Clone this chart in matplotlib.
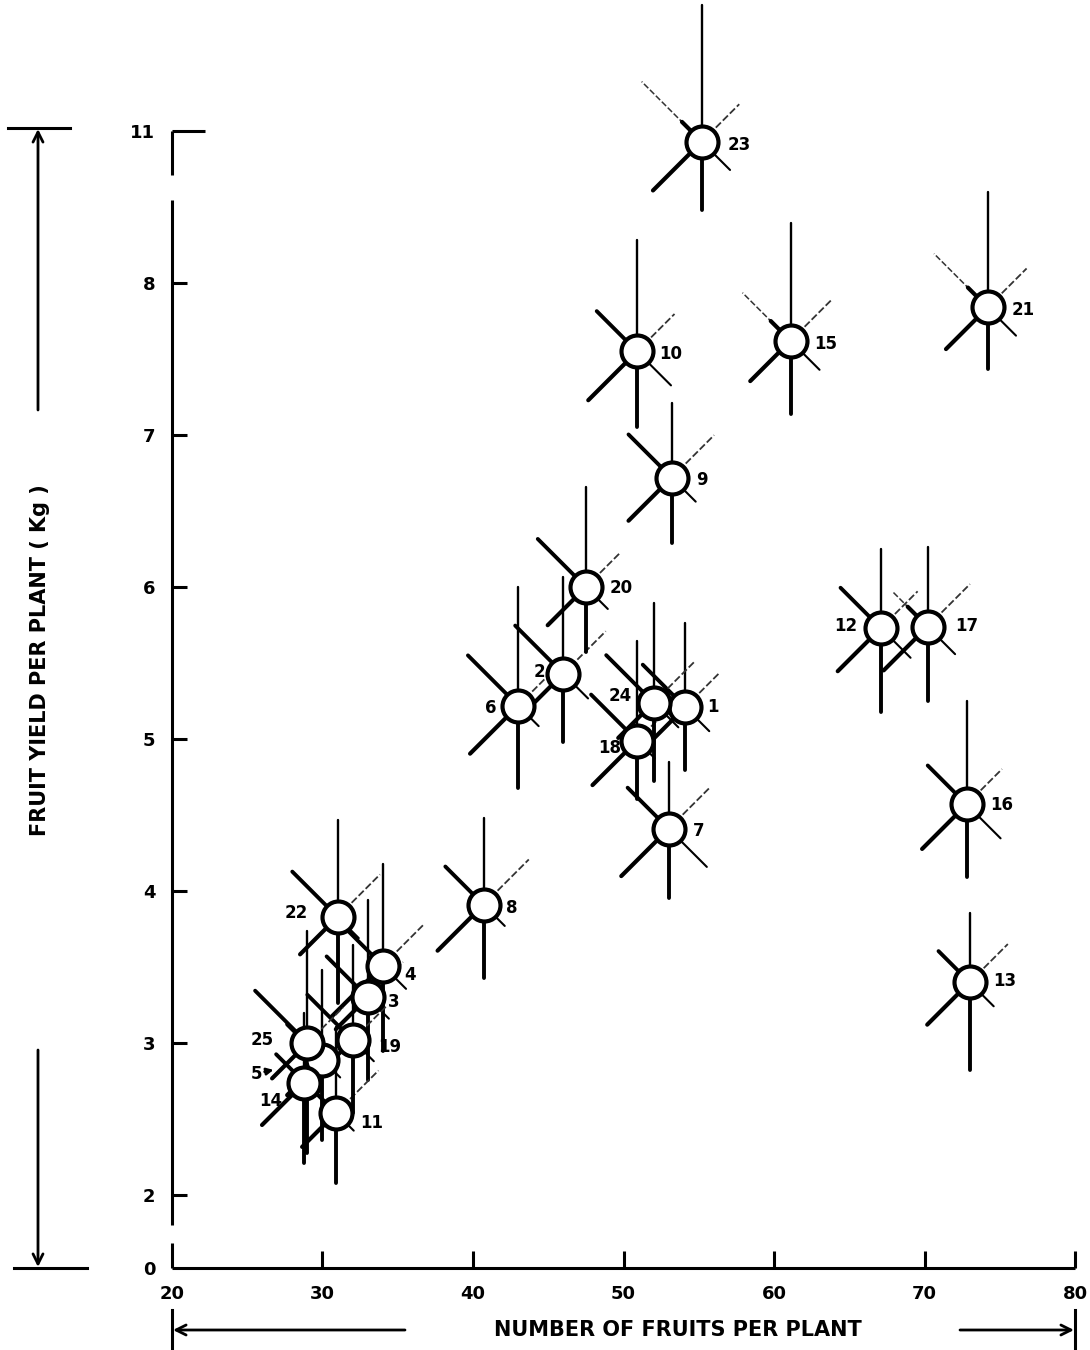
import numpy as np
import matplotlib
matplotlib.use("Agg")
import matplotlib.pyplot as plt

# metroglyph data: one glyph per accession
ids = list(range(1, 26))
fruits = [54.1, 46.0, 33.0, 34.0, 30.0, 43.0, 53.0, 40.7, 53.2, 50.9, 30.9, 67.1, 73.0,
          28.8, 61.1, 72.8, 70.2, 50.9, 32.0, 47.5, 74.2, 31.0, 55.2, 52.0, 29.0]
yield_kg = [5.21, 5.43, 3.30, 3.51, 2.89, 5.22, 4.41, 3.91, 6.72, 7.55, 2.54, 5.73, 3.40,
            2.74, 7.62, 4.57, 5.74, 4.99, 3.02, 6.00, 7.84, 3.83, 10.93, 5.24, 3.00]
# ray lengths (other characters) for each glyph
ray_up = [84, 97, 97, 102, 90, 119, 67, 87, 75, 111, 86, 79, 69,
          70, 118, 103, 80, 100, 95, 100, 115, 97, 137, 100, 112]
ray_down = [63, 68, 83, 85, 80, 82, 69, 73, 65, 76, 70, 84, 88,
            80, 73, 73, 74, 58, 73, 65, 62, 86, 68, 78, 110]
ray_nw = [60, 68, 58, 57, 50, 71, 58, 54, 61, 57, 35, 57, 44,
          40, 68, 55, 50, 65, 64, 68, 76, 64, 85, 67, 74]
ray_ne = [47, 60, 50, 57, 45, 60, 59, 64, 60, 53, 60, 52, 54,
          55, 59, 50, 60, 60, 48, 47, 55, 60, 53, 57, 50]
ray_sw = [59, 62, 45, 72, 50, 68, 67, 65, 61, 69, 48, 61, 60,
          60, 57, 63, 62, 63, 45, 54, 59, 53, 69, 50, 50]
ray_se = [34, 35, 30, 33, 25, 29, 54, 30, 34, 48, 25, 42, 34,
          30, 41, 48, 39, 25, 30, 31, 40, 30, 40, 35, 30]

xticks = [20, 30, 40, 50, 60, 70, 80]
yticks = [0, 2, 3, 4, 5, 6, 7, 8, 11]

# style / layout
nw_thin = {15, 17, 21, 23}
label_off = {1: (22, 0), 2: (-18, 2), 3: (20, -5), 4: (22, -9), 5: (-60, -14), 6: (-22, -2),
             7: (24, -2), 8: (22, -3), 9: (24, -2), 10: (22, -3), 11: (24, -10), 12: (-24, 2),
             13: (24, 1), 14: (-22, -18), 15: (24, -3), 16: (24, -1), 17: (28, 1), 18: (-16, -7),
             19: (26, -7), 20: (24, -1), 21: (24, -3), 22: (-30, 4), 23: (26, -3), 24: (-22, 7),
             25: (-34, 3)}


def ydisp(v):
    # broken y axis: 0 squeezed under 2, 11 placed one step above 8
    if v >= 9:
        return v - 2
    if v < 2:
        return 2 - 0.48 * (2 - v) / 2
    return v


W, H = 1090, 1350
fig = plt.figure(figsize=(W / 100, H / 100), dpi=100)
ax = fig.add_axes([172 / W, 82 / H, 903 / W, 1268 / H])
ax.set_xlim(20, 80)
ax.set_ylim(ydisp(0), ydisp(0) + 1268 / 152)
px_x = 903 / 60
px_y = 152
for s in ax.spines.values():
    s.set_visible(False)

# axis lines (broken left axis)
k = dict(color="k", lw=2.2, clip_on=False, solid_capstyle="butt")
y0 = ydisp(0)
ax.plot([20, 80], [y0, y0], **k)
ax.plot([20, 20], [y0, y0 + 25 / px_y], **k)
ax.plot([20, 20], [y0 + 43 / px_y, 8 + 83 / px_y], **k)
ax.plot([20, 20], [8 + 108 / px_y, ydisp(11)], **k)
ax.plot([20, 20 + 33 / px_x], [ydisp(11), ydisp(11)], **k)
for yv in yticks[1:-1]:
    ax.plot([20, 20 + 15 / px_x], [yv, yv], **k)
for xv in xticks[1:]:
    ax.plot([xv, xv], [y0, y0 + 17 / px_y], **k)

ax.set_xticks(xticks)
ax.set_xticklabels([str(v) for v in xticks])
ax.set_yticks([ydisp(v) for v in yticks])
ax.set_yticklabels([str(v) for v in yticks])
ax.tick_params(length=0, labelsize=13, pad=12)
for t in ax.get_xticklabels() + ax.get_yticklabels():
    t.set_fontweight("bold")

# glyphs
for i, gid in enumerate(ids):
    x, y = fruits[i], ydisp(yield_kg[i])

    def ray(length, ang, lw, ls="-", col="k"):
        a = np.radians(ang)
        ax.plot([x, x + length * np.cos(a) / px_x], [y, y + length * np.sin(a) / px_y],
                color=col, lw=lw, ls=ls, solid_capstyle="round", clip_on=False, zorder=2)

    ray(ray_up[i], 90, 1.7)
    ray(ray_down[i], 270, 2.8)
    ray(ray_sw[i], 225, 3.0)
    ray(ray_se[i], 315, 1.5)
    ray(ray_ne[i], 45, 1.3, ls=(0, (4, 1.5)), col="0.2")
    if gid in nw_thin:
        ray(ray_nw[i], 135, 1.1, ls=(0, (4, 1.5)), col="0.2")
        ray(28, 135, 3.0)
    else:
        ray(ray_nw[i], 135, 2.8)

ax.scatter([fruits[i] for i in range(len(ids))], [ydisp(v) for v in yield_kg],
           s=530, facecolor="white", edgecolor="k", linewidth=3.0, zorder=3, clip_on=False)

for i, gid in enumerate(ids):
    dx, dy = label_off[gid]
    ax.annotate(str(gid), (fruits[i], ydisp(yield_kg[i])), xytext=(dx, dy),
                textcoords="offset pixels", ha="left" if dx > 0 else "right", va="center",
                fontsize=12, fontweight="bold", zorder=4)
# arrow next to label 5
i5 = ids.index(5)
ax.annotate("", (fruits[i5], ydisp(yield_kg[i5])), xytext=(-58, -12), textcoords="offset pixels",
            xycoords="data", arrowprops=dict(arrowstyle="-|>", lw=1.8, color="k",
                                             shrinkA=0, shrinkB=36, mutation_scale=10))

# outer arrows and axis titles drawn in figure pixels
ov = fig.add_axes([0, 0, 1, 1], zorder=-1)
ov.set_xlim(0, W)
ov.set_ylim(H, 0)
ov.axis("off")
ov.patch.set_alpha(0)
lk = dict(color="k", lw=2.2)
ov.plot([8, 70], [128, 128], **lk)
ov.plot([14, 87], [1268, 1268], **lk)
ar = dict(arrowstyle="->", lw=2.0, color="k", mutation_scale=18, shrinkA=0, shrinkB=0)
ov.annotate("", (38, 129), xytext=(38, 410), arrowprops=ar)
ov.annotate("", (38, 1267), xytext=(38, 1050), arrowprops=ar)
ov.text(40, 660, "FRUIT YIELD PER PLANT ( Kg )", rotation=90, ha="center", va="center",
        fontsize=15, fontweight="bold")

ov.plot([172, 172], [1310, 1350], **lk)
ov.plot([1075, 1075], [1310, 1350], **lk)
ov.annotate("", (173, 1330), xytext=(405, 1330), arrowprops=ar)
ov.annotate("", (1074, 1330), xytext=(960, 1330), arrowprops=ar)
ov.text(678, 1330, "NUMBER OF FRUITS PER PLANT", ha="center", va="center",
        fontsize=15, fontweight="bold")

plt.savefig("out.png", dpi=100)
